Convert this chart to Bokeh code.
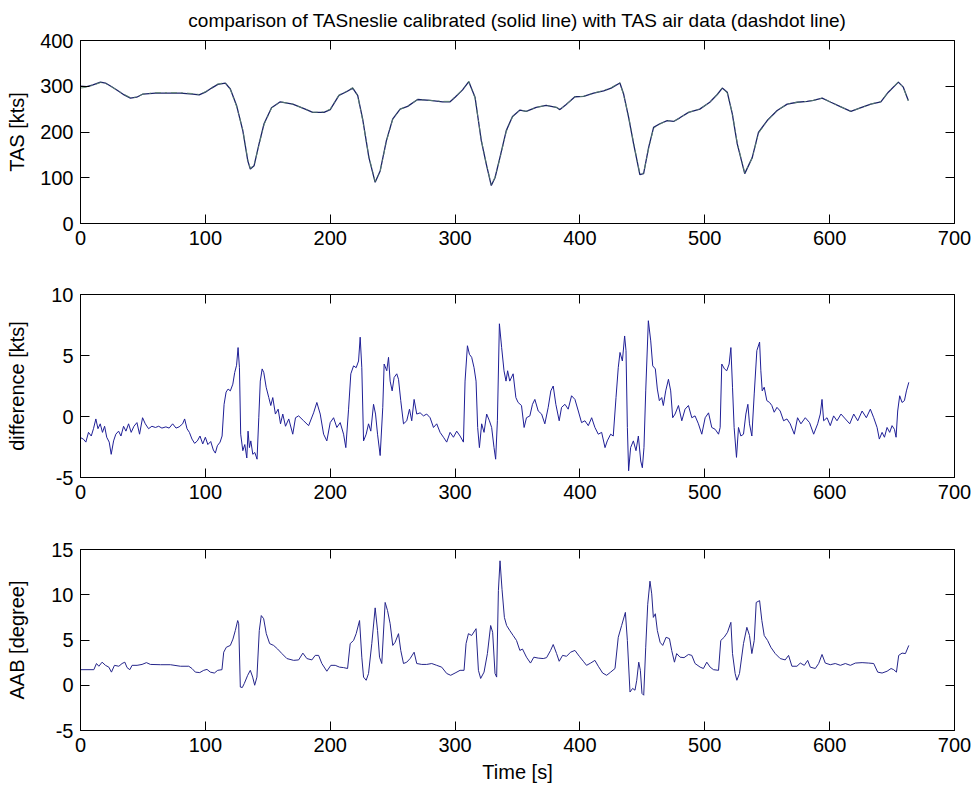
from bokeh.plotting import figure
from bokeh.models import Range1d, FixedTicker, LinearAxis
from bokeh.layouts import column
from bokeh.embed import file_html
from bokeh.resources import INLINE

# ---------------- data ----------------
time_ticks = [0, 100, 200, 300, 400, 500, 600, 700]
tas_ticks = [0, 100, 200, 300, 400]
diff_ticks = [-5, 0, 5, 10]
aab_ticks = [-5, 0, 5, 10, 15]

title_text = "comparison of TASneslie calibrated (solid line) with TAS air data (dashdot line)"

tas_t = [0, 5, 10, 16, 20, 25, 30, 35, 40, 45, 50, 60, 70, 80, 90, 95, 100, 105, 110, 116,
         120, 125, 130, 134, 136, 139, 143, 147, 153, 160, 170, 180, 186, 195, 200, 207, 213,
         218, 222, 226, 231, 236, 240, 245, 250, 256, 262, 270, 280, 290, 296, 300, 306, 311,
         316, 321, 325, 329, 332, 336, 341, 346, 352, 357, 365, 373, 381, 384, 389, 396, 403,
         411, 419, 425, 432, 435, 439, 443, 448, 451, 455, 459, 464, 470, 475, 480, 487, 496,
         504, 510, 514, 518, 522, 526, 532, 538, 543, 550, 558, 566, 574, 582, 587, 594, 601,
         609, 617, 624, 633, 641, 647, 655, 659, 663]
tas_neslie = [300, 299, 303, 309, 307, 299, 290, 281, 274, 276, 283, 285, 285, 285, 283, 281,
              287, 296, 304, 307, 294, 258, 203, 137, 119, 126, 174, 218, 253, 266, 261, 250,
              243, 243, 249, 280, 288, 296, 280, 228, 144, 90, 115, 181, 228, 250, 256, 271,
              269, 266, 266, 276, 292, 310, 276, 181, 130, 83, 100, 145, 203, 234, 248, 245,
              254, 258, 254, 249, 260, 277, 278, 285, 290, 296, 307, 283, 232, 174, 107, 109,
              166, 210, 218, 225, 223, 231, 243, 250, 265, 282, 296, 287, 240, 174, 109, 144,
              199, 225, 247, 261, 265, 267, 269, 274, 265, 255, 245, 252, 261, 266, 287, 309,
              298, 269]
tas_air = [296, 298, 302, 308, 306, 299, 290, 282, 275, 276, 283, 286, 286, 286, 284, 282,
           288, 297, 305, 308, 293, 256, 205, 139, 121, 127, 172, 216, 252, 266, 261, 250,
           243, 244, 250, 281, 289, 297, 279, 226, 146, 92, 114, 179, 227, 250, 256, 271,
           269, 267, 267, 277, 293, 311, 274, 183, 131, 85, 101, 143, 201, 233, 248, 245,
           254, 258, 254, 249, 260, 277, 278, 285, 291, 297, 308, 281, 234, 176, 109, 110,
           164, 208, 217, 225, 223, 231, 243, 250, 265, 282, 297, 285, 242, 176, 111, 143,
           197, 224, 247, 261, 265, 267, 269, 274, 265, 255, 245, 252, 261, 267, 288, 310,
           297, 268]

diff_t = [0, 2.4, 4.3, 6.4, 8.6, 10.4, 12.3, 14, 15.8, 17.6, 19.3, 21, 23, 24.6, 26.5, 28.3,
          30.5, 32.4, 34.5, 36.4, 38.5, 40.6, 42.8, 45.2, 47.3, 49.7, 51.9, 54.5, 57.2, 60,
          62.6, 65.2, 68.4, 71, 73.8, 76.5, 79, 81.8, 83.4, 85.3, 87.2, 89.3, 91.4, 93.6, 95.7,
          97.9, 100, 102, 104.3, 106.4, 108, 109.6, 111.8, 113.4, 115, 116.6, 118.2, 120, 122,
          123.5, 125, 126.2, 127.3, 128.3, 130, 131.6, 133.2, 134.2, 135.3, 136.4, 138, 139.6,
          141.4, 142.8, 144, 145.5, 146.8, 148.7, 150.8, 152.4, 154, 156.1, 158.3, 160.2, 162,
          164.2, 166.8, 170, 172.2, 174.7, 178.7, 182.7, 186.7, 189.3, 192, 194.7, 197.3, 200,
          202.7, 205.3, 208, 210.7, 212.5, 214.7, 216.5, 218.7, 220.8, 222.7, 224, 225.3,
          226.7, 228.8, 230.7, 232.5, 234.7, 236.3, 237.9, 240, 242.1, 243.2, 245.3, 246.7,
          248, 249.6, 251.2, 253.3, 254.7, 256.5, 258.7, 261.3, 263.5, 265.3, 267.2, 269.3,
          272, 274.7, 277.3, 280, 282.7, 285.3, 288, 290.7, 293.3, 296, 298.7, 301.3, 304,
          306.7, 308, 309.9, 311.5, 313.3, 315.2, 316.8, 318.1, 319.5, 321.3, 323.2, 325.3,
          327.5, 329.3, 331.2, 332.5, 333.9, 335.5, 337.3, 339.2, 340.8, 342.1, 343.8, 346.5,
          348.7, 350.5, 353.2, 355.3, 357.2, 359.9, 362, 363.9, 366.6, 369.3, 371.9, 374.6,
          376.7, 378.6, 380.7, 383.4, 385.3, 388, 390.6, 393.3, 396, 398.7, 401.3, 404, 406.7,
          409.4, 412, 414.7, 417.4, 420.1, 421.9, 424.6, 426.7, 428.9, 430.7, 432.1, 434,
          435.8, 436.9, 438, 439, 440.6, 442.8, 444.9, 446.8, 448.7, 450, 451.3, 452.7, 454.8,
          456.7, 458.3, 460.4, 462, 463.6, 465.5, 466.8, 468.7, 470.9, 472.7, 474.3, 476.2,
          478.9, 481.6, 484.2, 486.9, 489.6, 492.2, 494.9, 497.6, 500.3, 503, 505.6, 508.3,
          511, 512.3, 513.6, 515.8, 517.6, 519.5, 520.9, 522.2, 523.5, 525.4, 527, 528.9, 531,
          532.9, 534.5, 535.8, 537.7, 539.6, 541.7, 543.9, 544.9, 546, 547.6, 549.7, 551.9,
          553.7, 555.6, 557.8, 560.4, 563.1, 565.8, 568.4, 571.7, 574.3, 577, 580.5, 583.9,
          587.2, 590.4, 592.5, 593.9, 595.2, 597.9, 600.5, 603.2, 605.9, 609.1, 612.6, 616.1,
          619.3, 622.5, 626, 629.4, 632.6, 635.3, 638, 639.8, 642, 643.9, 646, 648.1, 650,
          651.9, 653.2, 654.5, 656.1, 658, 659.9, 661.5, 663.4]
diff_kts = [-1.73, -1.86, -2.1, -1.3, -1.6, -1.0, -0.2, -1.0, -0.6, -1.3, -0.8, -1.7, -2.1,
            -3.1, -2.0, -1.45, -1.2, -1.6, -0.8, -1.2, -0.6, -1.3, -0.8, -0.5, -1.45, -0.1,
            -0.6, -1.0, -0.8, -0.9, -0.8, -0.95, -0.85, -0.95, -0.6, -0.95, -0.85, -0.6, -0.2,
            -1.0, -1.3, -1.85, -2.2, -2.0, -1.6, -2.25, -1.7, -2.3, -2.05, -2.75, -3.0, -2.4,
            -2.1, -1.6, 1.0, 2.0, 2.25, 2.1, 2.65, 3.6, 4.2, 5.65, 4.0, -1.45, -2.8, -2.3, -3.4,
            -1.2, -2.55, -2.0, -3.1, -2.95, -3.5, -0.1, 2.9, 3.9, 3.6, 2.4, 1.55, 0.9, 1.55,
            0.2, 0.6, -0.6, 0.2, -0.8, -0.2, -1.45, -0.1, 0.05, -0.35, -0.75, 0.3, 1.15, 0.2,
            -1.45, -2.0, -0.5, -0.1, -0.9, -0.5, -1.45, -2.55, 0.6, 3.5, 4.15, 4.0, 4.55, 6.5,
            4.0, -2.0, -1.45, -0.6, -1.2, 1.0, 0.2, -1.45, -3.2, 0.75, 4.3, 3.75, 4.85, 2.9,
            2.1, 3.2, 3.5, 3.05, 1.3, -0.6, -0.35, 0.6, -0.35, 1.4, 0.2, 0.3, 0.05, 0.2, -0.1,
            -0.9, -0.6, -1.3, -1.7, -2.1, -1.3, -1.7, -1.2, -1.6, -2.1, 2.9, 5.8, 5.1, 4.85,
            4.0, 2.9, -0.9, -2.55, -0.6, -1.3, 0.2, -0.35, -0.9, -2.55, -3.5, -0.35, 7.6, 5.65,
            3.75, 2.9, 3.75, 2.9, 3.5, 1.55, 1.15, 0.9, -0.9, -0.1, 0.05, 1.0, 1.4, 0.45, 0.2,
            -0.6, 0.75, 2.1, 2.5, 1.0, -0.35, 0.75, 1.0, 0.6, 1.7, 1.4, 0.45, -0.5, -0.35,
            -0.75, -0.1, -0.9, -1.45, -1.3, -2.55, -2.0, -1.45, -1.6, 1.55, 4.0, 5.25, 4.55,
            6.6, 5.4, -0.9, -4.45, -2.55, -2.0, -2.8, -1.6, -3.65, -4.2, -2.55, 2.1, 7.85, 6.2,
            4.15, 3.9, 2.25, 1.3, 1.55, 0.9, 2.1, 3.05, 2.1, -0.1, 0.2, 0.9, -0.35, 0.6, 0.9,
            -0.1, 0.05, -0.6, -1.45, -0.1, 0.3, -0.9, -1.05, -1.45, -0.9, 4.3, 3.9, 3.75, 4.3,
            5.65, 2.4, -0.9, -3.35, -0.9, -1.6, -1.45, 0.2, 1.0, -0.6, -1.6, 1.85, 5.4, 6.1,
            3.75, 2.1, 2.4, 1.3, 1.15, 0.9, 0.35, 0.75, 0.45, -0.35, -0.2, -0.6, -1.45, -0.1,
            -0.6, -0.1, -0.5, -1.45, -0.6, 0.2, 1.4, -0.35, -0.1, -0.75, 0.05, -0.35, 0.2,
            -0.2, -0.6, 0.2, -0.35, 0.45, -0.1, 0.6, -0.1, -0.9, -1.85, -1.3, -1.7, -0.9, -1.3,
            -0.75, -1.05, -1.7, 0.45, 1.7, 1.15, 1.3, 2.1, 2.8]

aab_t = [0, 10.7, 12.8, 14.7, 17.3, 20, 22.7, 24.8, 27.2, 30.7, 33.3, 35.5, 37.3, 39.5, 41.3,
         45.3, 49.3, 52.8, 56, 64, 72, 80, 86.7, 89.3, 92, 95.5, 98.7, 101.3, 104, 107.2,
         109.9, 113.3, 114.7, 116.8, 120, 122.1, 124, 125.9, 126.7, 128, 129.6, 131.2, 133.9,
         136, 137.9, 139.5, 141.3, 143.2, 144.8, 146.7, 148.8, 151.5, 154.7, 157.9, 161.3,
         165.3, 170.7, 174.7, 178.1, 181.3, 185.3, 188, 190.7, 193.3, 197.3, 200.5, 204,
         207.5, 210.7, 213.9, 216, 218.7, 220.8, 223.5, 225.3, 226.7, 228.8, 230.7, 233.3,
         236, 237.9, 239.5, 241.3, 244, 245.9, 248, 250.1, 252, 254.7, 256.5, 258.7, 261.3,
         264, 267.2, 269.3, 273.3, 277.3, 281.3, 285.3, 289.3, 293.3, 296.5, 300, 304, 307.2,
         308.8, 310.7, 313.3, 316.8, 318.7, 320.5, 323.2, 325.9, 328.5, 330.1, 332, 333.3,
         334.7, 336, 337.6, 339.5, 341.3, 343.8, 346.5, 349.2, 351.9, 354, 357.2, 360.4,
         363.1, 366.6, 370.6, 373.3, 376.5, 378.6, 381.3, 383.4, 386.1, 389.3, 392.5, 396,
         399.5, 402.7, 405.3, 408.6, 412, 414.7, 418.2, 421.4, 424.6, 428.1, 430.7, 433.4,
         436.4, 438, 440.1, 442.2, 444.1, 445.5, 447.1, 448.4, 449.7, 451.1, 452.7, 454.3,
         456.1, 457.5, 458.8, 460.4, 462, 464.2, 466.3, 469, 471.7, 473.5, 475.7, 477.5,
         480.2, 483.4, 486.9, 489.6, 492.2, 496.3, 498.9, 501.6, 504.3, 507, 511, 512.8,
         515.5, 518.2, 520.9, 522.2, 524.3, 525.7, 527.8, 531, 533.7, 535.8, 537.7, 539.6,
         541.2, 543.9, 545.7, 547.6, 550.3, 552.9, 556.4, 560.4, 564.4, 567.1, 569.8, 573.8,
         576.5, 579.7, 582.4, 584.5, 588.5, 591.2, 593.9, 596.5, 600.5, 604.5, 608.6, 612.6,
         616.6, 620.6, 626, 631.3, 635.3, 638.5, 642, 646, 649.2, 651.3, 653.5, 655.3, 658,
         660.7, 663.4]
aab_deg = [1.72, 1.72, 2.4, 2.1, 2.55, 2.2, 2.0, 1.45, 2.2, 2.1, 2.4, 2.55, 1.95, 1.72, 2.2,
           2.2, 2.3, 2.5, 2.3, 2.27, 2.27, 2.1, 2.1, 1.85, 1.45, 1.4, 1.65, 1.75, 1.45, 1.35,
           1.65, 1.72, 3.65, 4.2, 4.4, 5.1, 6.05, 7.15, 6.8, -0.2, -0.25, 0.2, 1.1, 1.65, 0.9,
           0.0, 0.9, 6.05, 7.7, 7.35, 5.7, 4.6, 4.4, 4.0, 3.5, 2.95, 2.75, 2.8, 3.55, 2.95,
           2.8, 3.3, 3.3, 2.4, 1.55, 2.2, 2.2, 2.0, 1.95, 1.85, 4.6, 4.95, 5.7, 7.15, 3.1, 0.9,
           0.55, 1.3, 4.6, 8.55, 6.05, 3.1, 2.4, 9.15, 8.25, 6.8, 4.4, 4.75, 5.7, 3.85, 2.4,
           2.55, 2.95, 3.65, 2.4, 2.3, 2.3, 2.4, 2.2, 2.0, 1.3, 1.1, 1.35, 1.65, 1.65, 4.6,
           5.7, 5.5, 6.25, 1.65, 0.75, 1.45, 3.5, 6.6, 5.85, 1.3, 0.9, 10.45, 13.75, 10.6, 7.5,
           6.6, 6.05, 5.5, 4.95, 3.85, 4.0, 3.1, 2.45, 3.1, 3.0, 2.95, 3.05, 3.85, 4.5, 3.5,
           2.65, 3.3, 3.2, 3.65, 3.85, 3.2, 2.65, 2.2, 2.45, 2.75, 2.1, 1.35, 1.1, 1.45, 1.85,
           5.3, 6.6, 8.05, 4.95, -0.75, -0.35, -0.55, 0.55, 2.55, 1.65, -0.9, -1.1, 4.2, 8.95,
           11.5, 10.1, 7.5, 7.9, 6.05, 4.75, 4.4, 5.3, 5.15, 3.85, 2.55, 3.5, 3.1, 3.05, 3.4,
           3.3, 2.4, 2.0, 1.85, 2.55, 2.0, 1.72, 1.65, 4.95, 5.3, 5.85, 6.95, 3.5, 1.3, 0.55,
           1.3, 4.6, 6.4, 5.5, 3.5, 4.95, 9.15, 9.35, 7.15, 5.5, 4.95, 4.2, 3.5, 2.95, 2.8,
           3.3, 2.1, 2.1, 2.45, 2.2, 2.75, 2.0, 1.85, 2.4, 3.4, 2.45, 2.27, 2.4, 2.2, 2.4, 2.2,
           2.45, 2.5, 2.45, 2.4, 1.45, 1.35, 1.55, 1.85, 1.72, 1.45, 3.3, 3.55, 3.5, 4.4]

# ---------------- styling ----------------
FONT = "Liberation Sans"
FS = "20px"
WIDTH = 972


def style_axis(ax, labels=True):
    ax.major_tick_in = 9
    ax.major_tick_out = 0
    ax.minor_tick_in = 0
    ax.minor_tick_out = 0
    ax.major_tick_line_color = "black"
    ax.major_label_text_font = FONT
    ax.axis_label_text_font = FONT
    ax.axis_label_text_font_style = "normal"
    ax.axis_label_text_font_size = FS
    ax.axis_label_text_color = "black"
    if labels:
        ax.axis_line_color = "black"
        ax.major_label_text_color = "black"
        ax.major_label_text_font_size = FS
        ax.major_label_standoff = 7
    else:
        ax.axis_line_color = None
        ax.major_label_text_color = None
        ax.major_label_text_font_size = "0px"
        ax.major_label_standoff = 0


def make_panel(height, top, bottom, y0, y1, yticks, ylabel, ylabel_standoff):
    p = figure(width=WIDTH, height=height, x_range=Range1d(0, 700), y_range=Range1d(y0, y1),
               output_backend="svg", toolbar_location=None,
               min_border_left=80, min_border_right=18,
               min_border_top=top, min_border_bottom=bottom)
    p.xgrid.visible = False
    p.ygrid.visible = False
    p.outline_line_color = "black"
    p.outline_line_alpha = 1.0
    p.background_fill_color = "white"
    p.border_fill_color = "white"
    bottom_ax = p.below[0]
    left_ax = p.left[0]
    bottom_ax.ticker = FixedTicker(ticks=time_ticks)
    left_ax.ticker = FixedTicker(ticks=yticks)
    style_axis(bottom_ax)
    style_axis(left_ax)
    left_ax.major_label_overrides = {v: str(v) for v in yticks if v < 0}
    left_ax.axis_label = ylabel
    left_ax.axis_label_standoff = ylabel_standoff
    top_ax = LinearAxis(ticker=FixedTicker(ticks=time_ticks))
    style_axis(top_ax, labels=False)
    p.add_layout(top_ax, "above")
    right_ax = LinearAxis(ticker=FixedTicker(ticks=yticks))
    style_axis(right_ax, labels=False)
    p.add_layout(right_ax, "right")
    return p, bottom_ax


# panel 1: TAS  (frame 40..223)
p1, _ = make_panel(270, 40, 47, 0, 400, tas_ticks, "TAS [kts]", 9)
p1.title.text = title_text
p1.title.align = "center"
p1.title.vertical_align = "top"
p1.title.text_font = FONT
p1.title.text_font_size = "19px"
p1.title.text_font_style = "normal"
p1.title.text_color = "black"
p1.title.standoff = 15
p1.line(tas_t, tas_neslie, line_color="#1c2466", line_width=1.3)
p1.line(tas_t, tas_air, line_color="#5f8a70", line_width=1, line_dash="dashdot", line_alpha=0.85)

# panel 2: difference  (frame 294..477)
p2, _ = make_panel(257, 24, 50, -5, 10, diff_ticks, "difference [kts]", 20)
p2.line(diff_t, diff_kts, line_color="#1f1f96", line_width=1)

# panel 3: AAB  (frame 549..731)
p3, ax3 = make_panel(258, 22, 54, -5, 15, aab_ticks, "AAB [degree]", 20)
ax3.axis_label = "Time [s]"
ax3.axis_label_standoff = 6
p3.line(aab_t, aab_deg, line_color="#25258a", line_width=1)

layout = column(p1, p2, p3, spacing=0)

with open("out.html", "w") as f:
    f.write(file_html(layout, INLINE))
